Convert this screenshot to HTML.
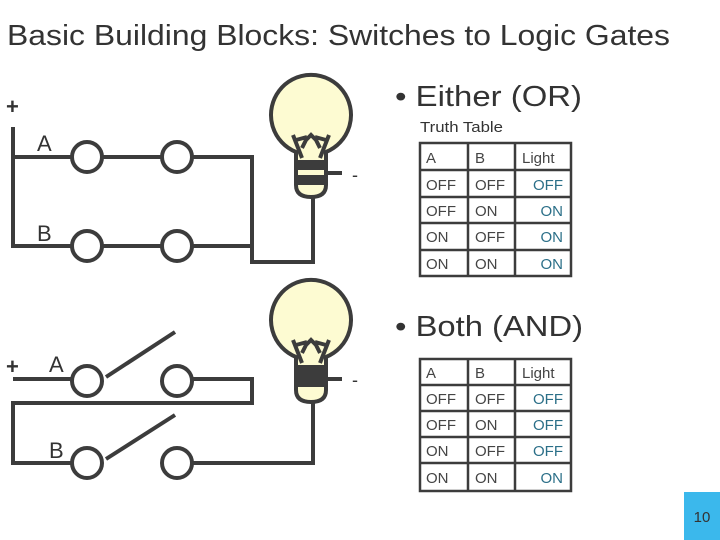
<!DOCTYPE html>
<html><head><meta charset="utf-8"><style>
html,body{margin:0;padding:0;background:#fff;}
svg{display:block;}
text{font-family:"Liberation Sans",Arial,Helvetica,sans-serif;}
</style></head><body>
<svg width="720" height="540" viewBox="0 0 720 540" xmlns="http://www.w3.org/2000/svg" font-family="Liberation Sans, Arial, Helvetica, sans-serif">
<rect width="720" height="540" fill="#fff"/>
<text x="7" y="45" font-size="29" fill="#333" textLength="663" lengthAdjust="spacingAndGlyphs">Basic Building Blocks: Switches to Logic Gates</text>
<text x="395" y="106" font-size="29" fill="#333" textLength="187" lengthAdjust="spacingAndGlyphs">• Either (OR)</text>
<text x="420" y="132" font-size="15" fill="#333" textLength="83" lengthAdjust="spacingAndGlyphs">Truth Table</text>
<text x="395" y="336" font-size="29" fill="#333" textLength="188" lengthAdjust="spacingAndGlyphs">• Both (AND)</text>

<g stroke="#3c3c3c" stroke-width="4" fill="none">
<path d="M13 127 V246 H72"/>
<path d="M13 157 H72"/>
<path d="M102 157 H162 M192 157 H252 V262 H313 V197"/>
<path d="M102 246 H162 M192 246 H252"/>
<circle cx="87" cy="157" r="15"/><circle cx="177" cy="157" r="15"/>
<circle cx="87" cy="246" r="15"/><circle cx="177" cy="246" r="15"/>
<path d="M328 173 H342"/>
<path d="M13 379 H72"/>
<circle cx="87" cy="381" r="15"/><circle cx="177" cy="381" r="15"/>
<path d="M106 377 L175 332"/>
<path d="M192 379 H252 V403 H13 V463 H72"/>
<circle cx="87" cy="463" r="15"/><circle cx="177" cy="463" r="15"/>
<path d="M106 459 L175 415"/>
<path d="M192 463 H313 V400"/>
<path d="M328 379 H342"/>
</g>
<text x="6" y="114" font-size="22" fill="#333" font-weight="bold">+</text>
<text x="352" y="181" font-size="18" fill="#333">-</text>
<text x="6" y="374" font-size="22" fill="#333" font-weight="bold">+</text>
<text x="352" y="386" font-size="18" fill="#333">-</text>
<text x="37" y="151" font-size="22" fill="#333">A</text>
<text x="37" y="241" font-size="22" fill="#333">B</text>
<text x="49" y="372" font-size="22" fill="#333">A</text>
<text x="49" y="458" font-size="22" fill="#333">B</text>

<g>
<path d="M296 152 A40 40 0 1 1 326 152 L326 185 Q326 197 311 197 Q296 197 296 185 Z" fill="#fdfbd2" stroke="#3c3c3c" stroke-width="4"/>
<path d="M293 135 L302 158 M329 135 L320 158 M302 148 L306 140 L311 135 L316 140 L320 148 M296 140 L307 137 M326 140 L315 137" stroke="#3c3c3c" stroke-width="4" fill="none"/>
<rect x="294" y="160" width="34" height="10" fill="#3c3c3c"/>
<rect x="294" y="175" width="34" height="10" fill="#3c3c3c"/>
</g>
<g transform="translate(0,205)">
<path d="M296 152 A40 40 0 1 1 326 152 L326 185 Q326 197 311 197 Q296 197 296 185 Z" fill="#fdfbd2" stroke="#3c3c3c" stroke-width="4"/>
<path d="M293 135 L302 158 M329 135 L320 158 M302 148 L306 140 L311 135 L316 140 L320 148 M296 140 L307 137 M326 140 L315 137" stroke="#3c3c3c" stroke-width="4" fill="none"/>
<rect x="294" y="160" width="34" height="22" fill="#3c3c3c"/>
</g>

<g stroke="#3c3c3c" stroke-width="2.5" fill="none">
<rect x="420" y="143" width="151" height="133"/>
<path d="M468 143 V276 M515 143 V276 M420 170 H571 M420 197 H571 M420 223 H571 M420 250 H571"/>
<rect x="420" y="359" width="151" height="132"/>
<path d="M468 359 V491 M515 359 V491 M420 385 H571 M420 411 H571 M420 437 H571 M420 463 H571"/>
</g>
<g font-size="15" fill="#444">
<text x="426" y="163">A</text><text x="475" y="163">B</text><text x="522" y="163">Light</text>
<text x="426" y="190">OFF</text><text x="475" y="190">OFF</text>
<text x="426" y="216">OFF</text><text x="475" y="216">ON</text>
<text x="426" y="242">ON</text><text x="475" y="242">OFF</text>
<text x="426" y="269">ON</text><text x="475" y="269">ON</text>
<text x="426" y="378">A</text><text x="475" y="378">B</text><text x="522" y="378">Light</text>
<text x="426" y="404">OFF</text><text x="475" y="404">OFF</text>
<text x="426" y="430">OFF</text><text x="475" y="430">ON</text>
<text x="426" y="456">ON</text><text x="475" y="456">OFF</text>
<text x="426" y="483">ON</text><text x="475" y="483">ON</text>
</g>
<g font-size="15" fill="#2b6f88" text-anchor="end">
<text x="563" y="190">OFF</text><text x="563" y="216">ON</text><text x="563" y="242">ON</text><text x="563" y="269">ON</text>
<text x="563" y="404">OFF</text><text x="563" y="430">OFF</text><text x="563" y="456">OFF</text><text x="563" y="483">ON</text>
</g>

<rect x="684" y="492" width="36" height="48" fill="#3bb8ec"/>
<text x="702" y="522" font-size="15" fill="#333" text-anchor="middle">10</text>
</svg>
</body></html>
